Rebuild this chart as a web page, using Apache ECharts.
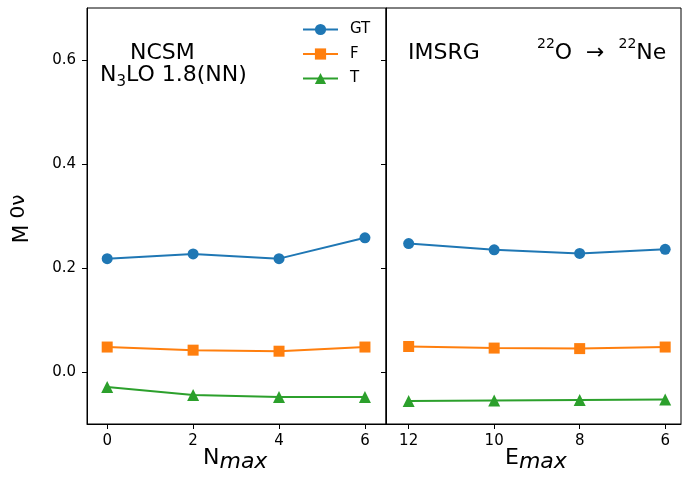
<!DOCTYPE html>
<html lang="en">
<head>
    <meta charset="UTF-8">
    <title>M0v NCSM vs IMSRG</title>
    <script src="https://cdn.jsdelivr.net/npm/echarts@6/dist/echarts.min.js"></script>
    <style>
        html, body { margin: 0; padding: 0; background: #fff; }
        #chart { width: 682px; height: 484px; }
    </style>
</head>
<body>
<div id="chart"></div>
<script>
    // x values
    const nmax = [0, 2, 4, 6];
    const emax = [12, 10, 8, 6];
    // NCSM panel
    const gtNcsm = [0.218, 0.227, 0.218, 0.258];
    const fNcsm = [0.048, 0.042, 0.040, 0.048];
    const tNcsm = [-0.029, -0.044, -0.048, -0.048];
    // IMSRG panel
    const gtImsrg = [0.247, 0.235, 0.228, 0.236];
    const fImsrg = [0.049, 0.046, 0.045, 0.048];
    const tImsrg = [-0.056, -0.055, -0.054, -0.053];
    // tick labels
    const yTicks = [0, 0.2, 0.4, 0.6];
    const nTicks = [0, 2, 4, 6];
    const eTicks = [6, 8, 10, 12];

    const FONT = 'DejaVu Sans';
    const colors = {GT: '#1f77b4', F: '#ff7f0e', T: '#2ca02c'};
    const symbols = {GT: ['circle', 11], F: ['rect', 11], T: ['triangle', 12]};

    function pairs(xs, ys) {
        return xs.map((x, i) => [x, ys[i]]);
    }

    function line(name, idx, xs, ys) {
        return {
            name: name,
            type: 'line',
            xAxisIndex: idx,
            yAxisIndex: idx,
            data: pairs(xs, ys),
            symbol: symbols[name][0],
            symbolSize: symbols[name][1],
            showAllSymbol: true,
            color: colors[name],
            lineStyle: {width: 2, color: colors[name]},
            itemStyle: {color: colors[name]},
            animation: false
        };
    }

    function xAxis(idx, min, max, ticks, inverse) {
        return {
            type: 'value',
            gridIndex: idx,
            min: min,
            max: max,
            inverse: inverse,
            splitLine: {show: false},
            axisLine: {show: true, onZero: false, lineStyle: {color: '#000', width: 1}},
            axisTick: {show: true, length: 5, customValues: ticks, lineStyle: {color: '#000'}},
            axisLabel: {show: true, customValues: ticks, color: '#000', fontFamily: FONT, fontSize: 15, margin: 10}
        };
    }

    function yAxis(idx, showLabels) {
        return {
            type: 'value',
            gridIndex: idx,
            min: -0.1,
            max: 0.7,
            splitLine: {show: false},
            axisLine: {show: true, onZero: false, lineStyle: {color: '#000', width: 1}},
            axisTick: {show: true, length: 5, customValues: yTicks, lineStyle: {color: '#000'}},
            axisLabel: {
                show: showLabels, customValues: yTicks, color: '#000', fontFamily: FONT, fontSize: 15, margin: 11,
                formatter: (v) => v.toFixed(1)
            }
        };
    }

    // main text and lowered / raised parts, all aligned on the bottom of the line box
    const rich = {
        m: {fontFamily: FONT, fontSize: 22, lineHeight: 30, verticalAlign: 'bottom', fill: '#000'},
        mr: {fontFamily: FONT, fontSize: 22, lineHeight: 26, padding: [0, 0, 4, 0], verticalAlign: 'bottom', fill: '#000'},
        sub: {fontFamily: FONT, fontSize: 15, lineHeight: 30, verticalAlign: 'bottom', fill: '#000'},
        sup: {fontFamily: FONT, fontSize: 14, lineHeight: 17, padding: [0, 0, 13, 0], verticalAlign: 'bottom', fill: '#000'},
        ax: {fontFamily: FONT, fontSize: 22, lineHeight: 26, padding: [0, 0, 4, 0], verticalAlign: 'bottom', fill: '#000'},
        axs: {fontFamily: FONT, fontSize: 22, fontStyle: 'italic', lineHeight: 30, verticalAlign: 'bottom', fill: '#000'},
        ym: {fontFamily: FONT, fontSize: 22, lineHeight: 26, verticalAlign: 'bottom', fill: '#000'},
        yp: {fontFamily: FONT, fontSize: 20, lineHeight: 22, padding: [0, 0, 4, 6], verticalAlign: 'bottom', fill: '#000'}
    };

    const chart = echarts.init(document.getElementById('chart'), null, {renderer: 'canvas'});
    chart.setOption({
        backgroundColor: '#fff',
        animation: false,
        grid: [
            {left: 87, right: 296, top: 8, bottom: 60, show: true, borderColor: '#000', borderWidth: 1},
            {left: 386, right: 1, top: 8, bottom: 60, show: true, borderColor: '#000', borderWidth: 1}
        ],
        xAxis: [
            xAxis(0, -0.47, 6.49, nTicks, false),
            xAxis(1, 5.63, 12.53, eTicks, true)
        ],
        yAxis: [yAxis(0, true), yAxis(1, false)],
        legend: {
            data: ['GT', 'F', 'T'],
            orient: 'vertical',
            left: 302,
            top: 22,
            padding: 0,
            itemWidth: 35,
            itemHeight: 14,
            itemGap: 9.5,
            textStyle: {fontFamily: FONT, fontSize: 15, color: '#000', padding: [0, 0, 0, 7]}
        },
        series: [
            line('GT', 0, nmax, gtNcsm),
            line('F', 0, nmax, fNcsm),
            line('T', 0, nmax, tNcsm),
            line('GT', 1, emax, gtImsrg),
            line('F', 1, emax, fImsrg),
            line('T', 1, emax, tImsrg)
        ],
        graphic: [
            {
                type: 'text', left: 130, top: 42,
                style: {text: 'NCSM', fontFamily: FONT, fontSize: 22, fill: '#000'}
            },
            {
                type: 'text', left: 100, top: 64,
                style: {text: '{mr|N}{sub|3}{mr|LO 1.8(NN)}', fill: '#000', rich: rich}
            },
            {
                type: 'text', left: 408, top: 42,
                style: {text: 'IMSRG', fontFamily: FONT, fontSize: 22, fill: '#000'}
            },
            {
                type: 'text', left: 537, top: 37,
                style: {text: '{sup|22}{m|O  \u2192  }{sup|22}{m|Ne}', fill: '#000', rich: rich}
            },
            {
                type: 'text', left: 203, top: 447,
                style: {text: '{ax|N}{axs|max}', fill: '#000', rich: rich}
            },
            {
                type: 'text', left: 505, top: 447,
                style: {text: '{ax|E}{axs|max}', fill: '#000', rich: rich}
            },
            {
                type: 'text', x: 20, y: 219, rotation: Math.PI / 2,
                style: {
                    text: '{ym|M}{yp|0\u03bd}',
                    align: 'center', verticalAlign: 'middle',
                    fill: '#000',
                    rich: rich
                }
            }
        ]
    });
</script>
</body>
</html>
